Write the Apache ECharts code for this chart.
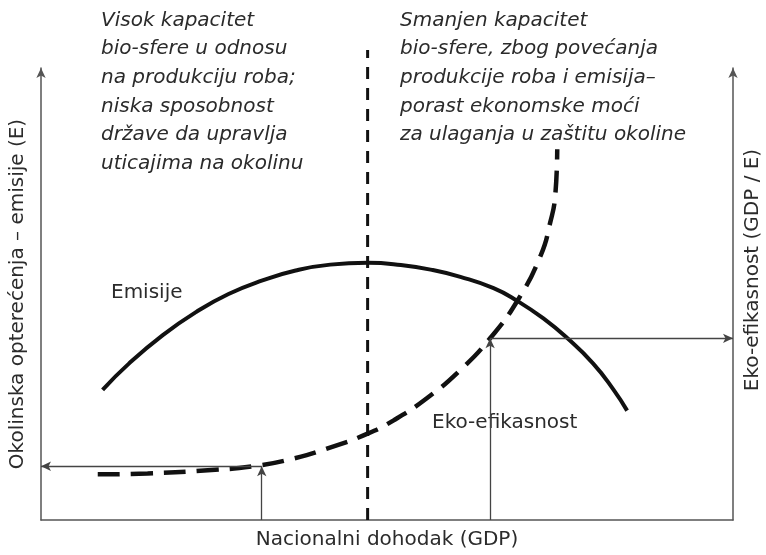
<!DOCTYPE html>
<html>
<head>
<meta charset="utf-8">
<script src="https://cdn.jsdelivr.net/npm/echarts@6/dist/echarts.min.js"></script>
<style>
  html, body { margin: 0; padding: 0; background: #fff; }
  #main { width: 766px; height: 555px; }
</style>
</head>
<body>
<div id="main"></div>
<script>
// GDP (x) i opterećenje / eko-efikasnost (y), relativne jedinice 0-100
const emisijeX = [8.9, 12.7, 17.6, 22.4, 27.1, 32.0, 36.8, 41.8, 47.2, 52.0, 56.6, 60.6, 65.4, 68.8, 72.6, 76.0, 79.8, 82.7, 84.7];
const emisijeY = [28.8, 34.6, 40.9, 46.0, 50.0, 53.0, 55.2, 56.5, 56.9, 56.4, 55.3, 53.8, 51.3, 48.5, 44.6, 40.3, 34.6, 28.9, 24.2];

const ekoX = [8.2, 15.4, 24.1, 30.7, 36.5, 42.3, 47.2, 50.9, 55.8, 60.6, 64.9, 68.8, 72.2, 73.6, 74.3, 74.6];
const ekoY = [10.1, 10.3, 11.0, 11.9, 13.6, 16.3, 19.1, 22.0, 27.0, 33.2, 40.2, 48.4, 58.5, 65.9, 71.6, 82.0];

const prag = 47.2;          // granica izmedju dvije faze
const pragVrh = 104;
const tackaNisko = [31.9, 11.9];
const tackaVisoko = [64.9, 40.2];

const tekstLijevo = 'Visok kapacitet\nbio-sfere u odnosu\nna produkciju roba;\nniska sposobnost\ndržave da upravlja\nuticajima na okolinu';
const tekstDesno = 'Smanjen kapacitet\nbio-sfere, zbog povećanja\nprodukcije roba i emisija–\nporast ekonomske moći\nza ulaganja u zaštitu okoline';

const FONT = 'DejaVu Sans';
const TXT = '#2b2b2b';

function pairs(xs, ys) {
  return xs.map((x, i) => [x, ys[i]]);
}

function txt(text, size, italic) {
  return {
    text: text,
    fontFamily: FONT,
    fontSize: size,
    fontStyle: italic ? 'italic' : 'normal',
    fill: TXT
  };
}

const strelica = {
  symbol: ['none', 'arrow'],
  symbolSize: [7, 10],
  silent: true,
  label: { show: false },
  lineStyle: { color: '#444', width: 1.3, type: 'solid' },
  emphasis: { disabled: true },
  data: [
    [{ coord: tackaNisko }, { coord: [0, tackaNisko[1]] }],
    [{ coord: [tackaNisko[0], 0] }, { coord: tackaNisko }],
    [{ coord: [tackaVisoko[0], 0] }, { coord: tackaVisoko }],
    [{ coord: tackaVisoko }, { coord: [100, tackaVisoko[1]] }]
  ]
};

const axisLine = {
  show: true,
  lineStyle: { color: '#555', width: 1.5 }
};

const option = {
  animation: false,
  grid: { left: 40, right: 33, top: 68, bottom: 32 },
  xAxis: {
    type: 'value', min: 0, max: 100,
    name: 'Nacionalni dohodak (GDP)',
    nameLocation: 'middle',
    nameGap: 10,
    nameTextStyle: { fontFamily: FONT, fontSize: 20, color: TXT },
    axisLine: axisLine,
    axisTick: { show: false },
    axisLabel: { show: false },
    splitLine: { show: false }
  },
  yAxis: [
    {
      type: 'value', min: 0, max: 100, position: 'left',
      name: 'Okolinska opterećenja – emisije (E)',
      nameLocation: 'middle',
      nameRotate: 90,
      nameGap: 13,
      nameTextStyle: { fontFamily: FONT, fontSize: 20, color: TXT },
      axisLine: Object.assign({}, axisLine, { symbol: ['none', 'arrow'], symbolSize: [7, 10] }),
      axisTick: { show: false },
      axisLabel: { show: false },
      splitLine: { show: false }
    },
    {
      type: 'value', min: 0, max: 100, position: 'right',
      axisLine: Object.assign({}, axisLine, { symbol: ['none', 'arrow'], symbolSize: [7, 10] }),
      axisTick: { show: false },
      axisLabel: { show: false },
      splitLine: { show: false }
    }
  ],
  series: [
    {
      name: 'Prag',
      type: 'line',
      clip: false,
      symbol: 'none',
      data: [[prag, 0], [prag, pragVrh]],
      lineStyle: { color: '#111', width: 3, type: [12, 9] },
      silent: true
    },
    {
      name: 'Emisije',
      type: 'line',
      smooth: 0.5,
      symbol: 'none',
      data: pairs(emisijeX, emisijeY),
      lineStyle: { color: '#111', width: 4, cap: 'butt' },
      silent: true
    },
    {
      name: 'Eko-efikasnost',
      type: 'line',
      smooth: 0.5,
      symbol: 'none',
      data: pairs(ekoX, ekoY),
      lineStyle: { color: '#111', width: 4.5, type: [22, 11] },
      silent: true,
      markLine: strelica
    }
  ],
  graphic: [
    {
      type: 'text', left: 101, top: 6,
      style: Object.assign(txt(tekstLijevo, 20, true), { lineHeight: 28.7 })
    },
    {
      type: 'text', left: 400, top: 6,
      style: Object.assign(txt(tekstDesno, 20, true), { lineHeight: 28.7 })
    },
    {
      type: 'text', x: 111, y: 293,
      style: Object.assign(txt('Emisije', 20), { verticalAlign: 'middle' })
    },
    {
      type: 'text', x: 432, y: 423,
      style: Object.assign(txt('Eko-efikasnost', 20), { verticalAlign: 'middle' })
    },
    {
      type: 'text', x: 753, y: 270, rotation: Math.PI / 2,
      style: Object.assign(txt('Eko-efikasnost (GDP / E)', 20), { align: 'center', verticalAlign: 'middle' })
    }
  ]
};

const chart = echarts.init(document.getElementById('main'));
chart.setOption(option);
</script>
</body>
</html>
